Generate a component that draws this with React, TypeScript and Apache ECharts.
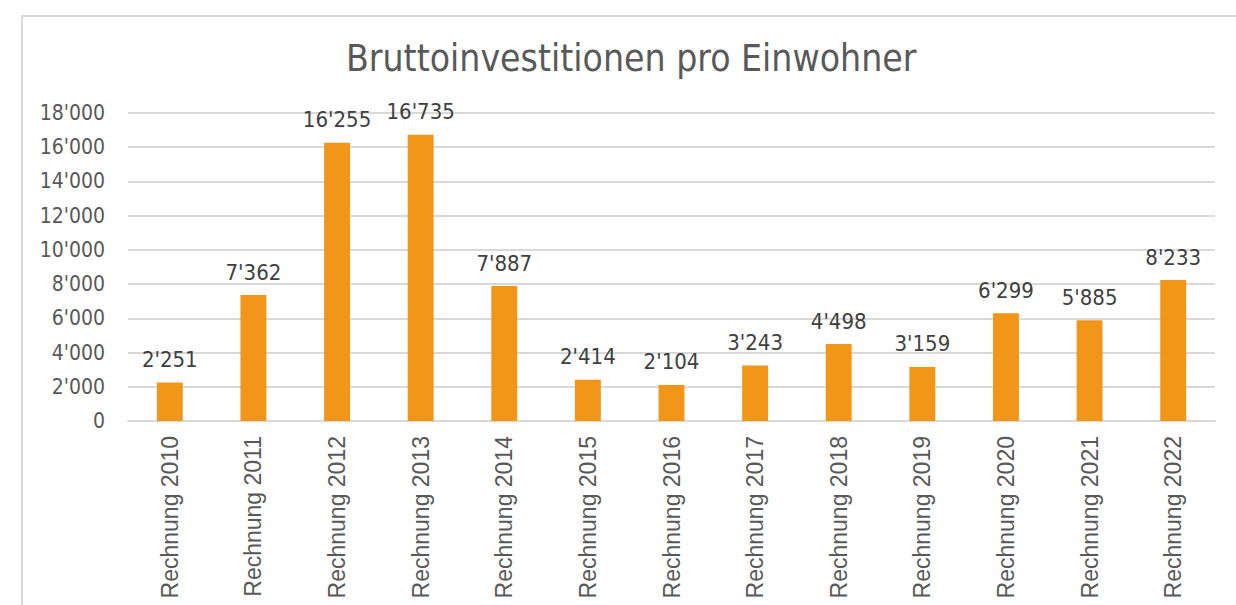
import React, { useEffect, useRef } from "react";
import * as echarts from "echarts";

const categories = [
  "Rechnung 2010", "Rechnung 2011", "Rechnung 2012", "Rechnung 2013", "Rechnung 2014",
  "Rechnung 2015", "Rechnung 2016", "Rechnung 2017", "Rechnung 2018", "Rechnung 2019",
  "Rechnung 2020", "Rechnung 2021", "Rechnung 2022",
];
const values = [2251, 7362, 16255, 16735, 7887, 2414, 2104, 3243, 4498, 3159, 6299, 5885, 8233];
const title = "Bruttoinvestitionen pro Einwohner";

const fmt = (v: number) => {
  const s = Math.round(v).toString();
  return s.replace(/\B(?=(\d{3})+(?!\d))/g, "'");
};

export default function App() {
  const ref = useRef<HTMLDivElement>(null);
  useEffect(() => {
    document.body.style.margin = "0";
    const chart = echarts.init(ref.current!, null, { renderer: "svg" });
    chart.setOption({
      animation: false,
      backgroundColor: "#ffffff",
      title: {
        text: title,
        left: 341,
        top: 35,
        textStyle: {
          fontFamily: "DejaVu Sans Condensed",
          fontSize: 37,
          fontWeight: "normal",
          color: "#595959",
        },
      },
      graphic: [
        {
          type: "rect",
          shape: { x: 22, y: 16, width: 1260, height: 640 },
          style: { fill: "none", stroke: "#D9D9D9", lineWidth: 2 },
          silent: true,
        },
      ],
      grid: { left: 128, right: 21, top: 113, bottom: 184, containLabel: false },
      xAxis: {
        type: "category",
        data: categories,
        axisTick: { show: false },
        axisLine: { lineStyle: { color: "#D9D9D9", width: 2 } },
        axisLabel: {
          rotate: 90,
          margin: 15,
          fontFamily: "Liberation Sans",
          fontSize: 23,
          color: "#595959",
        },
      },
      yAxis: {
        type: "value",
        min: 0,
        max: 18000,
        interval: 2000,
        axisLine: { show: false },
        axisTick: { show: false },
        splitLine: { lineStyle: { color: "#D9D9D9", width: 2 } },
        axisLabel: {
          margin: 23,
          fontFamily: "DejaVu Sans Condensed",
          fontSize: 21,
          color: "#595959",
          formatter: (v: number) => fmt(v),
        },
      },
      series: [
        {
          type: "bar",
          data: values,
          barWidth: "31%",
          itemStyle: { color: "#F19619" },
          label: {
            show: true,
            position: "top",
            distance: 12,
            fontFamily: "DejaVu Sans Condensed",
            fontSize: 22,
            color: "#404040",
            formatter: (p: any) => fmt(p.value),
          },
        },
      ],
    });
    return () => chart.dispose();
  }, []);
  return <div ref={ref} style={{ width: 1236, height: 605 }} />;
}
